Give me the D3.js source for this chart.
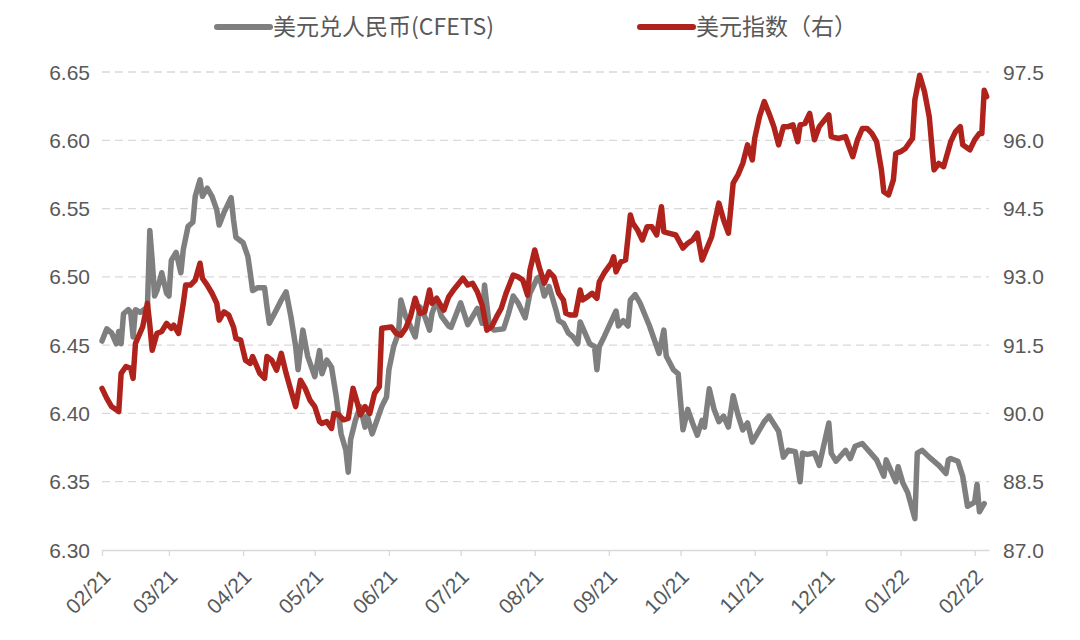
<!DOCTYPE html>
<html><head><meta charset="utf-8">
<script src="https://cdn.jsdelivr.net/npm/d3@7/dist/d3.min.js"></script>
<style>
body{margin:0;background:#fff;}
svg{display:block;}
</style></head>
<body><svg id="c" width="1080" height="640"></svg>
<script>
const cnyDates = ["2021-02-01","2021-02-03","2021-02-05","2021-02-07","2021-02-08","2021-02-09","2021-02-10","2021-02-12","2021-02-13","2021-02-14","2021-02-15","2021-02-17","2021-02-20","2021-02-21","2021-02-22","2021-02-23","2021-02-24","2021-02-26","2021-02-28","2021-03-01","2021-03-02","2021-03-04","2021-03-06","2021-03-07","2021-03-09","2021-03-11","2021-03-12","2021-03-14","2021-03-15","2021-03-17","2021-03-19","2021-03-21","2021-03-22","2021-03-24","2021-03-27","2021-03-28","2021-03-29","2021-04-01","2021-04-03","2021-04-04","2021-04-05","2021-04-07","2021-04-10","2021-04-11","2021-04-12","2021-04-15","2021-04-17","2021-04-19","2021-04-21","2021-04-23","2021-04-24","2021-04-26","2021-04-28","2021-05-01","2021-05-03","2021-05-04","2021-05-06","2021-05-08","2021-05-10","2021-05-12","2021-05-14","2021-05-15","2021-05-16","2021-05-18","2021-05-20","2021-05-22","2021-05-23","2021-05-25","2021-05-27","2021-05-29","2021-05-31","2021-06-01","2021-06-03","2021-06-05","2021-06-06","2021-06-08","2021-06-10","2021-06-12","2021-06-14","2021-06-16","2021-06-18","2021-06-19","2021-06-21","2021-06-23","2021-06-26","2021-06-27","2021-07-01","2021-07-04","2021-07-08","2021-07-10","2021-07-11","2021-07-13","2021-07-15","2021-07-19","2021-07-21","2021-07-23","2021-07-25","2021-07-28","2021-07-30","2021-08-02","2021-08-03","2021-08-05","2021-08-07","2021-08-10","2021-08-11","2021-08-13","2021-08-15","2021-08-17","2021-08-19","2021-08-20","2021-08-24","2021-08-26","2021-08-27","2021-08-28","2021-08-30","2021-09-04","2021-09-05","2021-09-07","2021-09-09","2021-09-10","2021-09-12","2021-09-14","2021-09-18","2021-09-22","2021-09-24","2021-09-25","2021-09-28","2021-09-30","2021-10-02","2021-10-04","2021-10-06","2021-10-08","2021-10-10","2021-10-11","2021-10-13","2021-10-15","2021-10-17","2021-10-19","2021-10-21","2021-10-23","2021-10-25","2021-10-27","2021-10-29","2021-10-31","2021-11-05","2021-11-07","2021-11-11","2021-11-13","2021-11-15","2021-11-18","2021-11-20","2021-11-21","2021-11-23","2021-11-26","2021-11-28","2021-12-02","2021-12-03","2021-12-05","2021-12-09","2021-12-11","2021-12-13","2021-12-16","2021-12-20","2021-12-22","2021-12-25","2021-12-26","2021-12-30","2021-12-31","2022-01-02","2022-01-04","2022-01-07","2022-01-08","2022-01-10","2022-01-13","2022-01-17","2022-01-20","2022-01-21","2022-01-22","2022-01-25","2022-01-27","2022-01-29","2022-02-01","2022-02-02","2022-02-03","2022-02-05"];
const cnyValues = [6.453,6.462,6.459,6.451,6.460,6.451,6.473,6.476,6.474,6.456,6.476,6.474,6.478,6.534,6.512,6.486,6.490,6.503,6.488,6.486,6.512,6.518,6.503,6.520,6.537,6.540,6.559,6.571,6.559,6.565,6.559,6.549,6.538,6.547,6.558,6.542,6.529,6.525,6.515,6.503,6.490,6.492,6.492,6.478,6.466,6.476,6.483,6.489,6.471,6.449,6.432,6.461,6.442,6.427,6.446,6.429,6.439,6.434,6.412,6.385,6.373,6.357,6.381,6.395,6.405,6.390,6.398,6.385,6.395,6.405,6.412,6.432,6.449,6.459,6.483,6.471,6.464,6.456,6.478,6.471,6.461,6.473,6.483,6.471,6.464,6.463,6.481,6.465,6.477,6.466,6.494,6.464,6.461,6.462,6.473,6.486,6.481,6.470,6.488,6.499,6.500,6.486,6.493,6.475,6.468,6.466,6.459,6.456,6.451,6.467,6.451,6.449,6.432,6.449,6.456,6.475,6.464,6.468,6.464,6.483,6.487,6.481,6.464,6.444,6.461,6.442,6.432,6.429,6.388,6.403,6.393,6.384,6.395,6.390,6.418,6.403,6.394,6.398,6.390,6.413,6.399,6.388,6.393,6.379,6.394,6.398,6.387,6.368,6.373,6.372,6.350,6.371,6.370,6.371,6.362,6.393,6.371,6.365,6.373,6.367,6.376,6.378,6.370,6.366,6.354,6.366,6.350,6.361,6.349,6.342,6.323,6.371,6.373,6.368,6.362,6.356,6.366,6.367,6.365,6.354,6.332,6.335,6.348,6.328,6.334];

const dxyDates = ["2021-02-01","2021-02-03","2021-02-05","2021-02-08","2021-02-09","2021-02-11","2021-02-13","2021-02-14","2021-02-15","2021-02-18","2021-02-20","2021-02-21","2021-02-22","2021-02-24","2021-02-26","2021-02-28","2021-03-02","2021-03-03","2021-03-05","2021-03-07","2021-03-08","2021-03-10","2021-03-12","2021-03-14","2021-03-15","2021-03-17","2021-03-19","2021-03-21","2021-03-22","2021-03-24","2021-03-26","2021-03-28","2021-03-29","2021-03-31","2021-04-02","2021-04-04","2021-04-05","2021-04-08","2021-04-10","2021-04-11","2021-04-13","2021-04-15","2021-04-17","2021-04-19","2021-04-21","2021-04-23","2021-04-25","2021-04-27","2021-04-29","2021-05-01","2021-05-03","2021-05-04","2021-05-06","2021-05-08","2021-05-09","2021-05-11","2021-05-13","2021-05-15","2021-05-17","2021-05-19","2021-05-20","2021-05-22","2021-05-24","2021-05-26","2021-05-28","2021-05-29","2021-06-02","2021-06-04","2021-06-06","2021-06-08","2021-06-10","2021-06-12","2021-06-14","2021-06-16","2021-06-18","2021-06-19","2021-06-21","2021-06-23","2021-06-24","2021-06-26","2021-06-28","2021-07-02","2021-07-04","2021-07-06","2021-07-08","2021-07-10","2021-07-12","2021-07-14","2021-07-16","2021-07-18","2021-07-20","2021-07-23","2021-07-25","2021-07-27","2021-07-29","2021-07-30","2021-08-01","2021-08-03","2021-08-05","2021-08-07","2021-08-09","2021-08-11","2021-08-13","2021-08-14","2021-08-16","2021-08-18","2021-08-20","2021-08-21","2021-08-23","2021-08-25","2021-08-27","2021-08-28","2021-08-30","2021-09-02","2021-09-03","2021-09-04","2021-09-06","2021-09-08","2021-09-10","2021-09-11","2021-09-13","2021-09-15","2021-09-17","2021-09-19","2021-09-21","2021-09-23","2021-09-24","2021-09-26","2021-09-29","2021-10-02","2021-10-04","2021-10-06","2021-10-08","2021-10-10","2021-10-12","2021-10-14","2021-10-15","2021-10-17","2021-10-19","2021-10-21","2021-10-23","2021-10-25","2021-10-27","2021-10-29","2021-10-31","2021-11-01","2021-11-03","2021-11-05","2021-11-07","2021-11-09","2021-11-11","2021-11-13","2021-11-15","2021-11-17","2021-11-19","2021-11-20","2021-11-22","2021-11-24","2021-11-26","2021-11-28","2021-12-02","2021-12-03","2021-12-06","2021-12-09","2021-12-10","2021-12-12","2021-12-14","2021-12-16","2021-12-18","2021-12-20","2021-12-22","2021-12-24","2021-12-25","2021-12-27","2021-12-29","2021-12-30","2022-01-01","2022-01-03","2022-01-06","2022-01-07","2022-01-09","2022-01-11","2022-01-13","2022-01-14","2022-01-15","2022-01-17","2022-01-19","2022-01-20","2022-01-22","2022-01-24","2022-01-26","2022-01-27","2022-01-30","2022-02-01","2022-02-03","2022-02-04","2022-02-05","2022-02-06"];
const dxyValues = [90.55,90.33,90.15,90.04,90.88,91.03,90.99,90.77,91.54,91.90,92.42,91.94,91.39,91.76,91.80,91.98,91.87,91.94,91.76,92.42,92.82,92.82,92.93,93.30,92.97,92.82,92.64,92.42,92.05,92.23,92.16,91.90,91.65,91.61,91.17,91.10,91.25,90.88,90.77,91.25,91.17,90.95,91.32,90.88,90.51,90.15,90.73,90.55,90.29,90.15,89.82,89.78,89.82,89.67,90.00,89.97,89.86,89.89,90.55,90.19,89.97,90.15,90.00,90.44,90.59,91.87,91.90,91.76,91.72,91.87,92.12,92.53,92.20,92.23,92.71,92.42,92.53,92.34,92.27,92.56,92.71,92.97,92.82,92.86,92.67,92.38,91.83,91.91,92.12,92.31,92.64,93.04,93.00,92.93,92.60,93.15,93.59,93.19,92.86,93.11,93.00,92.64,92.49,92.20,92.16,92.16,92.71,92.49,92.56,92.64,92.53,92.89,93.08,93.30,93.44,93.11,93.33,93.37,94.36,94.18,94.03,93.81,94.10,94.10,93.92,94.54,93.99,93.96,93.92,93.63,93.74,93.81,93.96,93.37,93.63,93.88,94.14,94.62,94.25,93.96,95.06,95.24,95.49,95.90,95.57,96.04,96.52,96.85,96.59,96.30,95.90,96.30,96.30,96.34,95.97,96.34,96.37,96.59,96.01,96.30,96.56,96.08,96.04,96.08,95.93,95.64,96.01,96.26,96.26,96.15,95.97,95.35,94.87,94.80,95.13,95.71,95.75,95.82,96.04,96.89,97.43,97.07,96.52,95.93,95.35,95.49,95.42,95.60,95.97,96.19,96.30,95.90,95.79,96.01,96.15,96.15,97.10,96.96];

const leftTicks = [6.30,6.35,6.40,6.45,6.50,6.55,6.60,6.65];
const rightTicks = [87.0,88.5,90.0,91.5,93.0,94.5,96.0,97.5];
const xDomain = ["2021-02-01","2022-02-07"];
const seriesNames = ["美元兑人民币(CFETS)","美元指数（右）"];
const seriesColors = ["#7f7f7f","#b0231c"];

const parse = d3.utcParse("%Y-%m-%d");
const svg = d3.select("#c");
const L = 102, R = 989, T = 72, B = 550;

const x = d3.scaleUtc().domain(xDomain.map(parse)).range([L, R]);
const yL = d3.scaleLinear().domain([6.30, 6.65]).range([B, T]);
const yR = d3.scaleLinear().domain([87.0, 97.5]).range([B, T]);

const numFont = "'Liberation Sans', Arial, sans-serif";
const labelColor = "#595959";

// gridlines
svg.append("g").selectAll("line").data(leftTicks.slice(1)).join("line")
  .attr("x1", L).attr("x2", R)
  .attr("y1", d => yL(d)).attr("y2", d => yL(d))
  .attr("stroke", "#d9d9d9").attr("stroke-width", 1.3)
  .attr("stroke-dasharray", "8,5");

// left axis labels
svg.append("g").selectAll("text").data(leftTicks).join("text")
  .attr("x", 90).attr("y", d => yL(d)).attr("dy", "0.36em")
  .attr("text-anchor", "end")
  .style("font-family", numFont).style("font-size", "21px").attr("fill", labelColor)
  .text(d => d.toFixed(2));

// right axis labels
svg.append("g").selectAll("text").data(rightTicks).join("text")
  .attr("x", 1003).attr("y", d => yR(d)).attr("dy", "0.36em")
  .attr("text-anchor", "start")
  .style("font-family", numFont).style("font-size", "21px").attr("fill", labelColor)
  .text(d => d.toFixed(1));

// x axis
const xAxis = d3.axisBottom(x)
  .ticks(d3.utcMonth.every(1))
  .tickFormat(d3.utcFormat("%m/%y"))
  .tickSize(6).tickSizeOuter(0);
const gx = svg.append("g").attr("transform", `translate(0,${B})`).call(xAxis);
gx.select(".domain").attr("stroke", "#d9d9d9").attr("stroke-width", 1.5);
gx.selectAll(".tick line").attr("stroke", "#d9d9d9").attr("stroke-width", 1.3);
gx.selectAll(".tick text")
  .attr("x", 0).attr("y", 0).attr("dy", "0.35em")
  .attr("text-anchor", "end")
  .attr("transform", "translate(4,23) rotate(-45)")
  .style("font-family", numFont).style("font-size", "21px").attr("fill", labelColor);

// lines
const cny = cnyDates.map((d, i) => ({d: parse(d), v: cnyValues[i]}));
const dxy = dxyDates.map((d, i) => ({d: parse(d), v: dxyValues[i]}));

svg.append("path").datum(cny)
  .attr("fill", "none").attr("stroke", seriesColors[0]).attr("stroke-width", 5.5)
  .attr("stroke-linejoin", "round").attr("stroke-linecap", "round")
  .attr("d", d3.line().x(p => x(p.d)).y(p => yL(p.v)));

svg.append("path").datum(dxy)
  .attr("fill", "none").attr("stroke", seriesColors[1]).attr("stroke-width", 5.5)
  .attr("stroke-linejoin", "round").attr("stroke-linecap", "round")
  .attr("d", d3.line().x(p => x(p.d)).y(p => yR(p.v)));

// legend
const legend = [{x: 217, name: seriesNames[0], c: seriesColors[0]}, {x: 640, name: seriesNames[1], c: seriesColors[1]}];
const lg = svg.append("g").selectAll("g").data(legend).join("g");
lg.append("line")
  .attr("x1", d => d.x).attr("x2", d => d.x + 53)
  .attr("y1", 27).attr("y2", 27)
  .attr("stroke", d => d.c).attr("stroke-width", 6).attr("stroke-linecap", "round");
lg.append("text")
  .attr("x", d => d.x + 56).attr("y", 27).attr("dy", "0.36em")
  .style("font-family", "'Noto Sans CJK SC', sans-serif").style("font-size", "23px")
  .attr("fill", labelColor)
  .text(d => d.name);
</script></body></html>
